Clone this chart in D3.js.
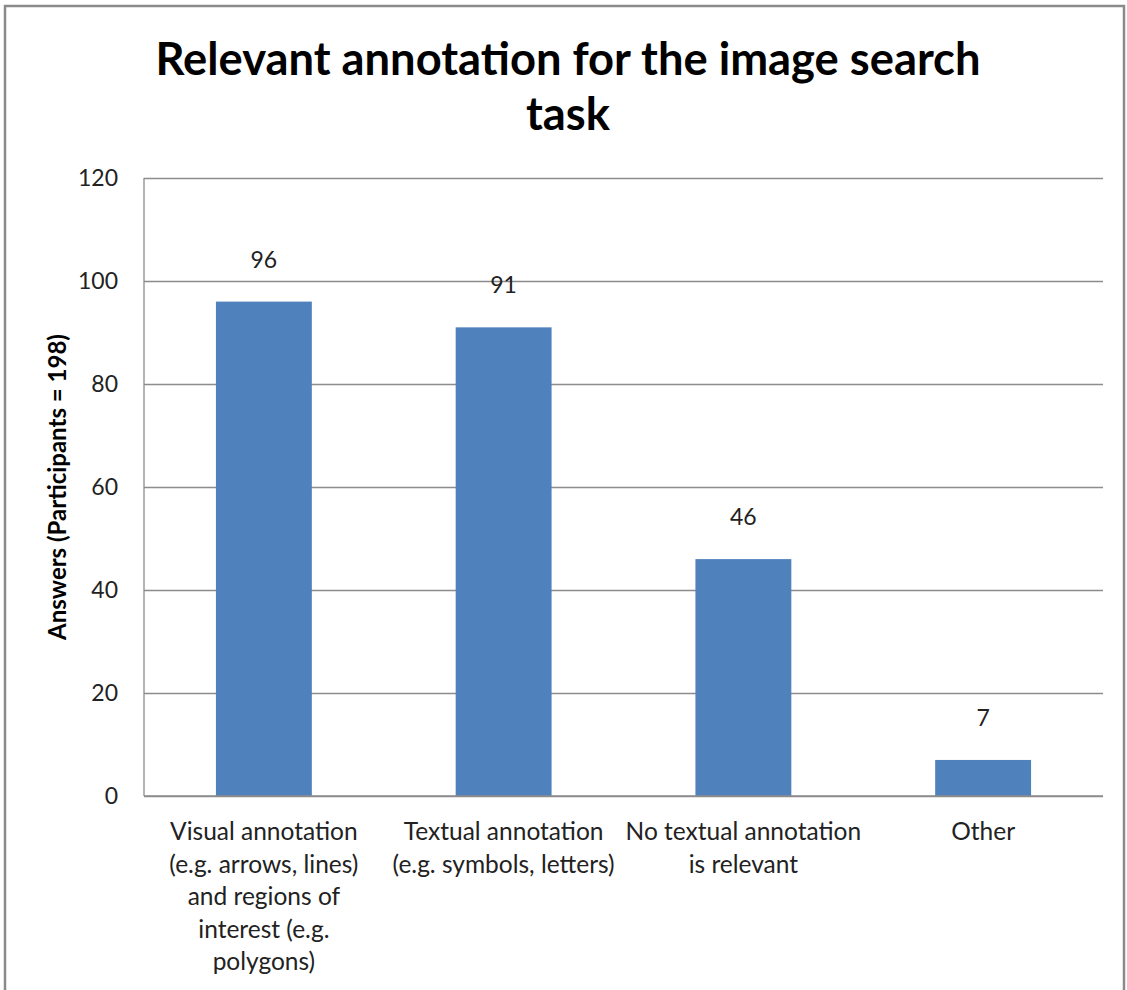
<!DOCTYPE html>
<html><head><meta charset="utf-8">
<script src="https://cdn.jsdelivr.net/npm/d3@7"></script>
<style>body{margin:0;background:#fff}svg{display:block}</style>
</head><body>
<svg id="c" width="1127" height="990"></svg>
<script>
const categories = ["Visual annotation (e.g. arrows, lines) and regions of interest (e.g. polygons)",
  "Textual annotation (e.g. symbols, letters)", "No textual annotation is relevant", "Other"];
const categoryLines = [
  ["Visual annotation", "(e.g. arrows, lines)", "and regions of", "interest (e.g.", "polygons)"],
  ["Textual annotation", "(e.g. symbols, letters)"],
  ["No textual annotation", "is relevant"],
  ["Other"]
];
const values = [96, 91, 46, 7];
const yTicks = [0, 20, 40, 60, 80, 100, 120];
const titleLines = ["Relevant annotation for the image search", "task"];
const yTitle = "Answers (Participants = 198)";

const svg = d3.select("#c");
const font = "Lato, 'Open Sans', sans-serif";
const L = 144, R = 1103, T = 178, B = 796;

svg.append("rect").attr("x", 5).attr("y", 6).attr("width", 1119).attr("height", 1000)
  .attr("fill", "#fff").attr("stroke", "#8a8a8a").attr("stroke-width", 2.5);

const x = d3.scaleBand().domain(categories).range([L, R]).paddingInner(0.6).paddingOuter(0.3);
const y = d3.scaleLinear().domain([0, 120]).range([B, T]);

// gridlines
const yAxis = d3.axisLeft(y).tickValues(yTicks).tickSize(-(R - L)).tickPadding(26).tickFormat(d3.format("d"));
const gy = svg.append("g").attr("transform", `translate(${L},0)`).call(yAxis);
gy.select(".domain").remove();
gy.selectAll(".tick line").attr("stroke", "#8c8c8c").attr("stroke-width", 1.3);
gy.selectAll(".tick text").attr("font-family", font).attr("font-size", 23).attr("fill", "#222");

svg.append("line").attr("x1", L).attr("x2", L).attr("y1", T).attr("y2", B)
  .attr("stroke", "#8c8c8c").attr("stroke-width", 1.3);

// bars
svg.selectAll("rect.bar").data(values).join("rect").attr("class", "bar")
  .attr("x", (d, i) => x(categories[i])).attr("width", x.bandwidth())
  .attr("y", d => y(d)).attr("height", d => y(0) - y(d))
  .attr("fill", "#4F81BD");

// baseline over bars
svg.append("line").attr("x1", L).attr("x2", R).attr("y1", B).attr("y2", B)
  .attr("stroke", "#8c8c8c").attr("stroke-width", 1.3);

// value labels
svg.selectAll("text.val").data(values).join("text").attr("class", "val")
  .attr("x", (d, i) => x(categories[i]) + x.bandwidth() / 2)
  .attr("y", d => y(d) - 34)
  .attr("text-anchor", "middle").attr("font-family", font).attr("font-size", 23).attr("fill", "#222")
  .text(d => d);

// category labels
categoryLines.forEach((lines, i) => {
  const cx = x(categories[i]) + x.bandwidth() / 2;
  lines.forEach((ln, j) => {
    svg.append("text").attr("x", cx).attr("y", 840 + j * 32.5)
      .attr("text-anchor", "middle").attr("font-family", font).attr("font-size", 24.5).attr("fill", "#222")
      .text(ln);
  });
});

// title
titleLines.forEach((t, j) => {
  svg.append("text").attr("x", 568).attr("y", 75 + j * 55)
    .attr("text-anchor", "middle").attr("font-family", font).attr("font-weight", "bold")
    .attr("font-size", 45.3).attr("fill", "#000").text(t);
});

// y title
svg.append("text").attr("transform", `translate(66,487) rotate(-90)`)
  .attr("text-anchor", "middle").attr("font-family", font).attr("font-weight", "bold")
  .attr("font-size", 24).attr("fill", "#000").text(yTitle);
</script>
</body></html>
